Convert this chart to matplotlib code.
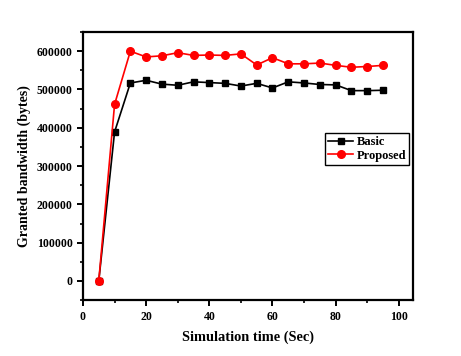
import matplotlib
matplotlib.use("Agg")
import matplotlib.pyplot as plt
from matplotlib.ticker import MultipleLocator

time = [5, 10, 15, 20, 25, 30, 35, 40, 45, 50, 55, 60, 65, 70, 75, 80, 85, 90, 95]
basic = [0, 389000, 517000, 524000, 514000, 511000, 520000, 518000, 516000, 509000,
         516000, 504000, 520000, 517000, 513000, 512000, 497000, 497000, 498000]
proposed = [0, 461000, 600000, 585000, 588000, 596000, 589000, 590000, 589000, 593000,
            564000, 583000, 567000, 567000, 569000, 563000, 558000, 560000, 563000]

plt.rcParams['font.family'] = ['Liberation Serif', 'DejaVu Serif']
plt.rcParams['font.weight'] = 'bold'

fig = plt.figure(figsize=(4.61, 3.56), dpi=100)
ax = fig.add_axes([0.180, 0.157, 0.716, 0.753])

ax.plot(time, basic, color='black', marker='s', markersize=4.5, lw=1.2, label='Basic')
ax.plot(time, proposed, color='red', marker='o', markersize=5.5, lw=1.2, label='Proposed')

ax.set_xlim(0, 104.5)
ax.set_ylim(-50000, 650000)
ax.xaxis.set_major_locator(MultipleLocator(20))
ax.xaxis.set_minor_locator(MultipleLocator(10))
ax.yaxis.set_major_locator(MultipleLocator(100000))
ax.yaxis.set_minor_locator(MultipleLocator(50000))

for s in ax.spines.values():
    s.set_linewidth(1.6)
ax.tick_params(which='major', direction='out', length=4, width=1.4, labelsize=8.5)
ax.tick_params(which='minor', direction='out', length=2.5, width=1.2)
for lab in ax.get_xticklabels() + ax.get_yticklabels():
    lab.set_fontweight('bold')

ax.set_xlabel('Simulation time (Sec)', fontsize=10.4, fontweight='bold', labelpad=6)
ax.set_ylabel('Granted bandwidth (bytes)', fontsize=10, fontweight='bold', labelpad=4)

leg = ax.legend(loc='upper left', bbox_to_anchor=(0.733, 0.622), fancybox=False,
                edgecolor='black', framealpha=1, fontsize=9, handlelength=2.0,
                borderpad=0.25, labelspacing=0.1, handletextpad=0.3, borderaxespad=0)
leg.get_frame().set_linewidth(1.0)
for t in leg.get_texts():
    t.set_fontweight('bold')

fig.savefig('out.png', dpi=100)
